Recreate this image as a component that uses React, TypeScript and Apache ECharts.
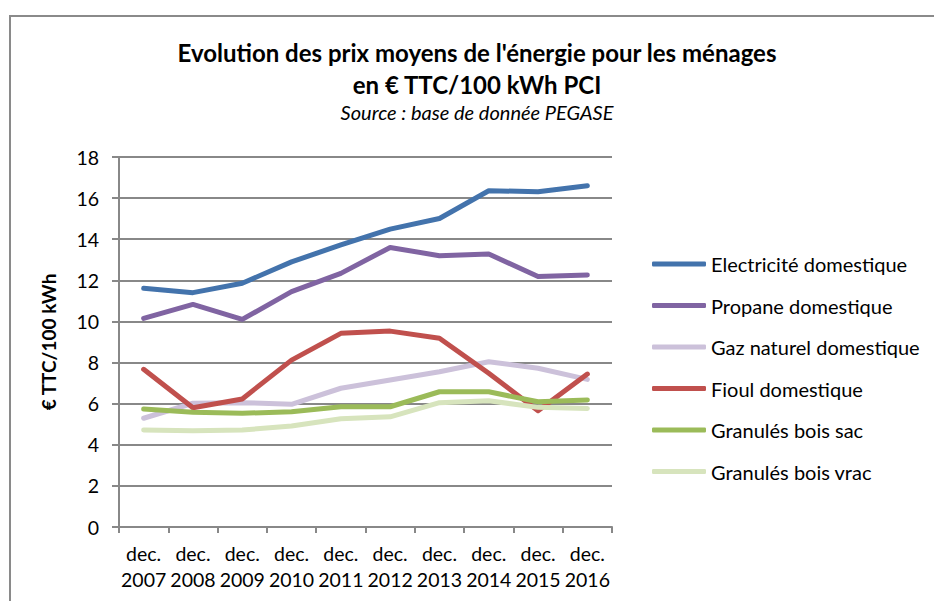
import React, { useEffect, useRef } from "react";
import * as echarts from "echarts";

const categories = ["dec.\n2007", "dec.\n2008", "dec.\n2009", "dec.\n2010", "dec.\n2011", "dec.\n2012", "dec.\n2013", "dec.\n2014", "dec.\n2015", "dec.\n2016"];
const seriesNames = ["Electricité domestique", "Propane domestique", "Gaz naturel domestique", "Fioul domestique", "Granulés bois sac", "Granulés bois vrac"];
const electricite = [11.61, 11.4, 11.86, 12.9, 13.72, 14.49, 15.01, 16.36, 16.31, 16.6];
const propane = [10.15, 10.83, 10.1, 11.45, 12.34, 13.6, 13.2, 13.28, 12.19, 12.26];
const gazNaturel = [5.29, 6.02, 6.05, 5.97, 6.75, 7.15, 7.55, 8.04, 7.72, 7.18];
const fioul = [7.67, 5.8, 6.23, 8.12, 9.42, 9.53, 9.18, 7.48, 5.66, 7.44];
const granulesSac = [5.74, 5.58, 5.53, 5.61, 5.85, 5.85, 6.58, 6.58, 6.09, 6.18];
const granulesVrac = [4.72, 4.68, 4.72, 4.91, 5.27, 5.36, 6.05, 6.14, 5.82, 5.77];
const colors = ["#4373AC", "#8064A2", "#CCC1DA", "#C0504D", "#9BBB59", "#D7E4BD"];

const FONT = "Lato, 'Liberation Sans', sans-serif";

export default function App() {
  const ref = useRef<HTMLDivElement>(null);
  useEffect(() => {
    if (!ref.current) return;
    const chart = echarts.init(ref.current, undefined, { renderer: "svg" });
    const data = [electricite, propane, gazNaturel, fioul, granulesSac, granulesVrac];
    chart.setOption({
      animation: false,
      backgroundColor: "#ffffff",
      textStyle: { fontFamily: FONT, color: "#000" },
      title: {
        text: "Evolution des prix moyens de l'énergie pour les ménages\nen € TTC/100 kWh PCI",
        subtext: "Source : base de donnée PEGASE",
        left: 477,
        textAlign: "center",
        top: 36,
        itemGap: 0,
        padding: 0,
        textStyle: { fontFamily: FONT, fontWeight: "bold", fontSize: 24, lineHeight: 32, color: "#000" },
        subtextStyle: { fontFamily: FONT, fontStyle: "italic", fontSize: 20, lineHeight: 24, color: "#000" },
      },
      graphic: [
        {
          type: "rect",
          shape: { x: 10, y: 16, width: 940, height: 600 },
          style: { fill: "none", stroke: "#8a8a8a", lineWidth: 2 },
          silent: true,
        },
      ],
      legend: {
        orient: "vertical",
        left: 652,
        top: 254,
        padding: 0,
        itemWidth: 54,
        itemHeight: 5,
        itemGap: 21.5,
        itemTextGap: 6,
        icon: "roundRect",
        textStyle: { fontFamily: FONT, fontSize: 20, lineHeight: 20, color: "#000" },
        data: seriesNames,
      },
      grid: { left: 119, right: 322, top: 157, bottom: 74, containLabel: false },
      xAxis: {
        type: "category",
        data: categories,
        boundaryGap: true,
        axisLine: { lineStyle: { color: "#888", width: 2 } },
        axisTick: { show: true, length: 6, lineStyle: { color: "#888", width: 2 } },
        axisLabel: { color: "#000", fontFamily: FONT, fontSize: 19.5, lineHeight: 26, margin: 13, interval: 0 },
        splitLine: { show: false },
      },
      yAxis: {
        type: "value",
        min: 0,
        max: 18,
        interval: 2,
        name: "€ TTC/100 kWh",
        nameLocation: "middle",
        nameGap: 61,
        nameRotate: 90,
        nameTextStyle: { fontFamily: FONT, fontWeight: "bold", fontSize: 19, color: "#000" },
        axisLine: { show: true, lineStyle: { color: "#888", width: 2 } },
        axisTick: { show: true, length: 7, lineStyle: { color: "#888", width: 2 } },
        axisLabel: { color: "#000", fontFamily: FONT, fontSize: 19.5, margin: 20 },
        splitLine: { show: true, lineStyle: { color: "#888", width: 2 } },
      },
      series: seriesNames.map((name, i) => ({
        name,
        type: "line",
        data: data[i],
        symbol: "none",
        color: colors[i],
        lineStyle: { width: 5, color: colors[i], cap: "round", join: "round" },
        z: 2 + i,
      })),
    });
    return () => chart.dispose();
  }, []);
  return <div ref={ref} style={{ position: "fixed", left: 0, top: 0, width: 934, height: 601 }} />;
}
